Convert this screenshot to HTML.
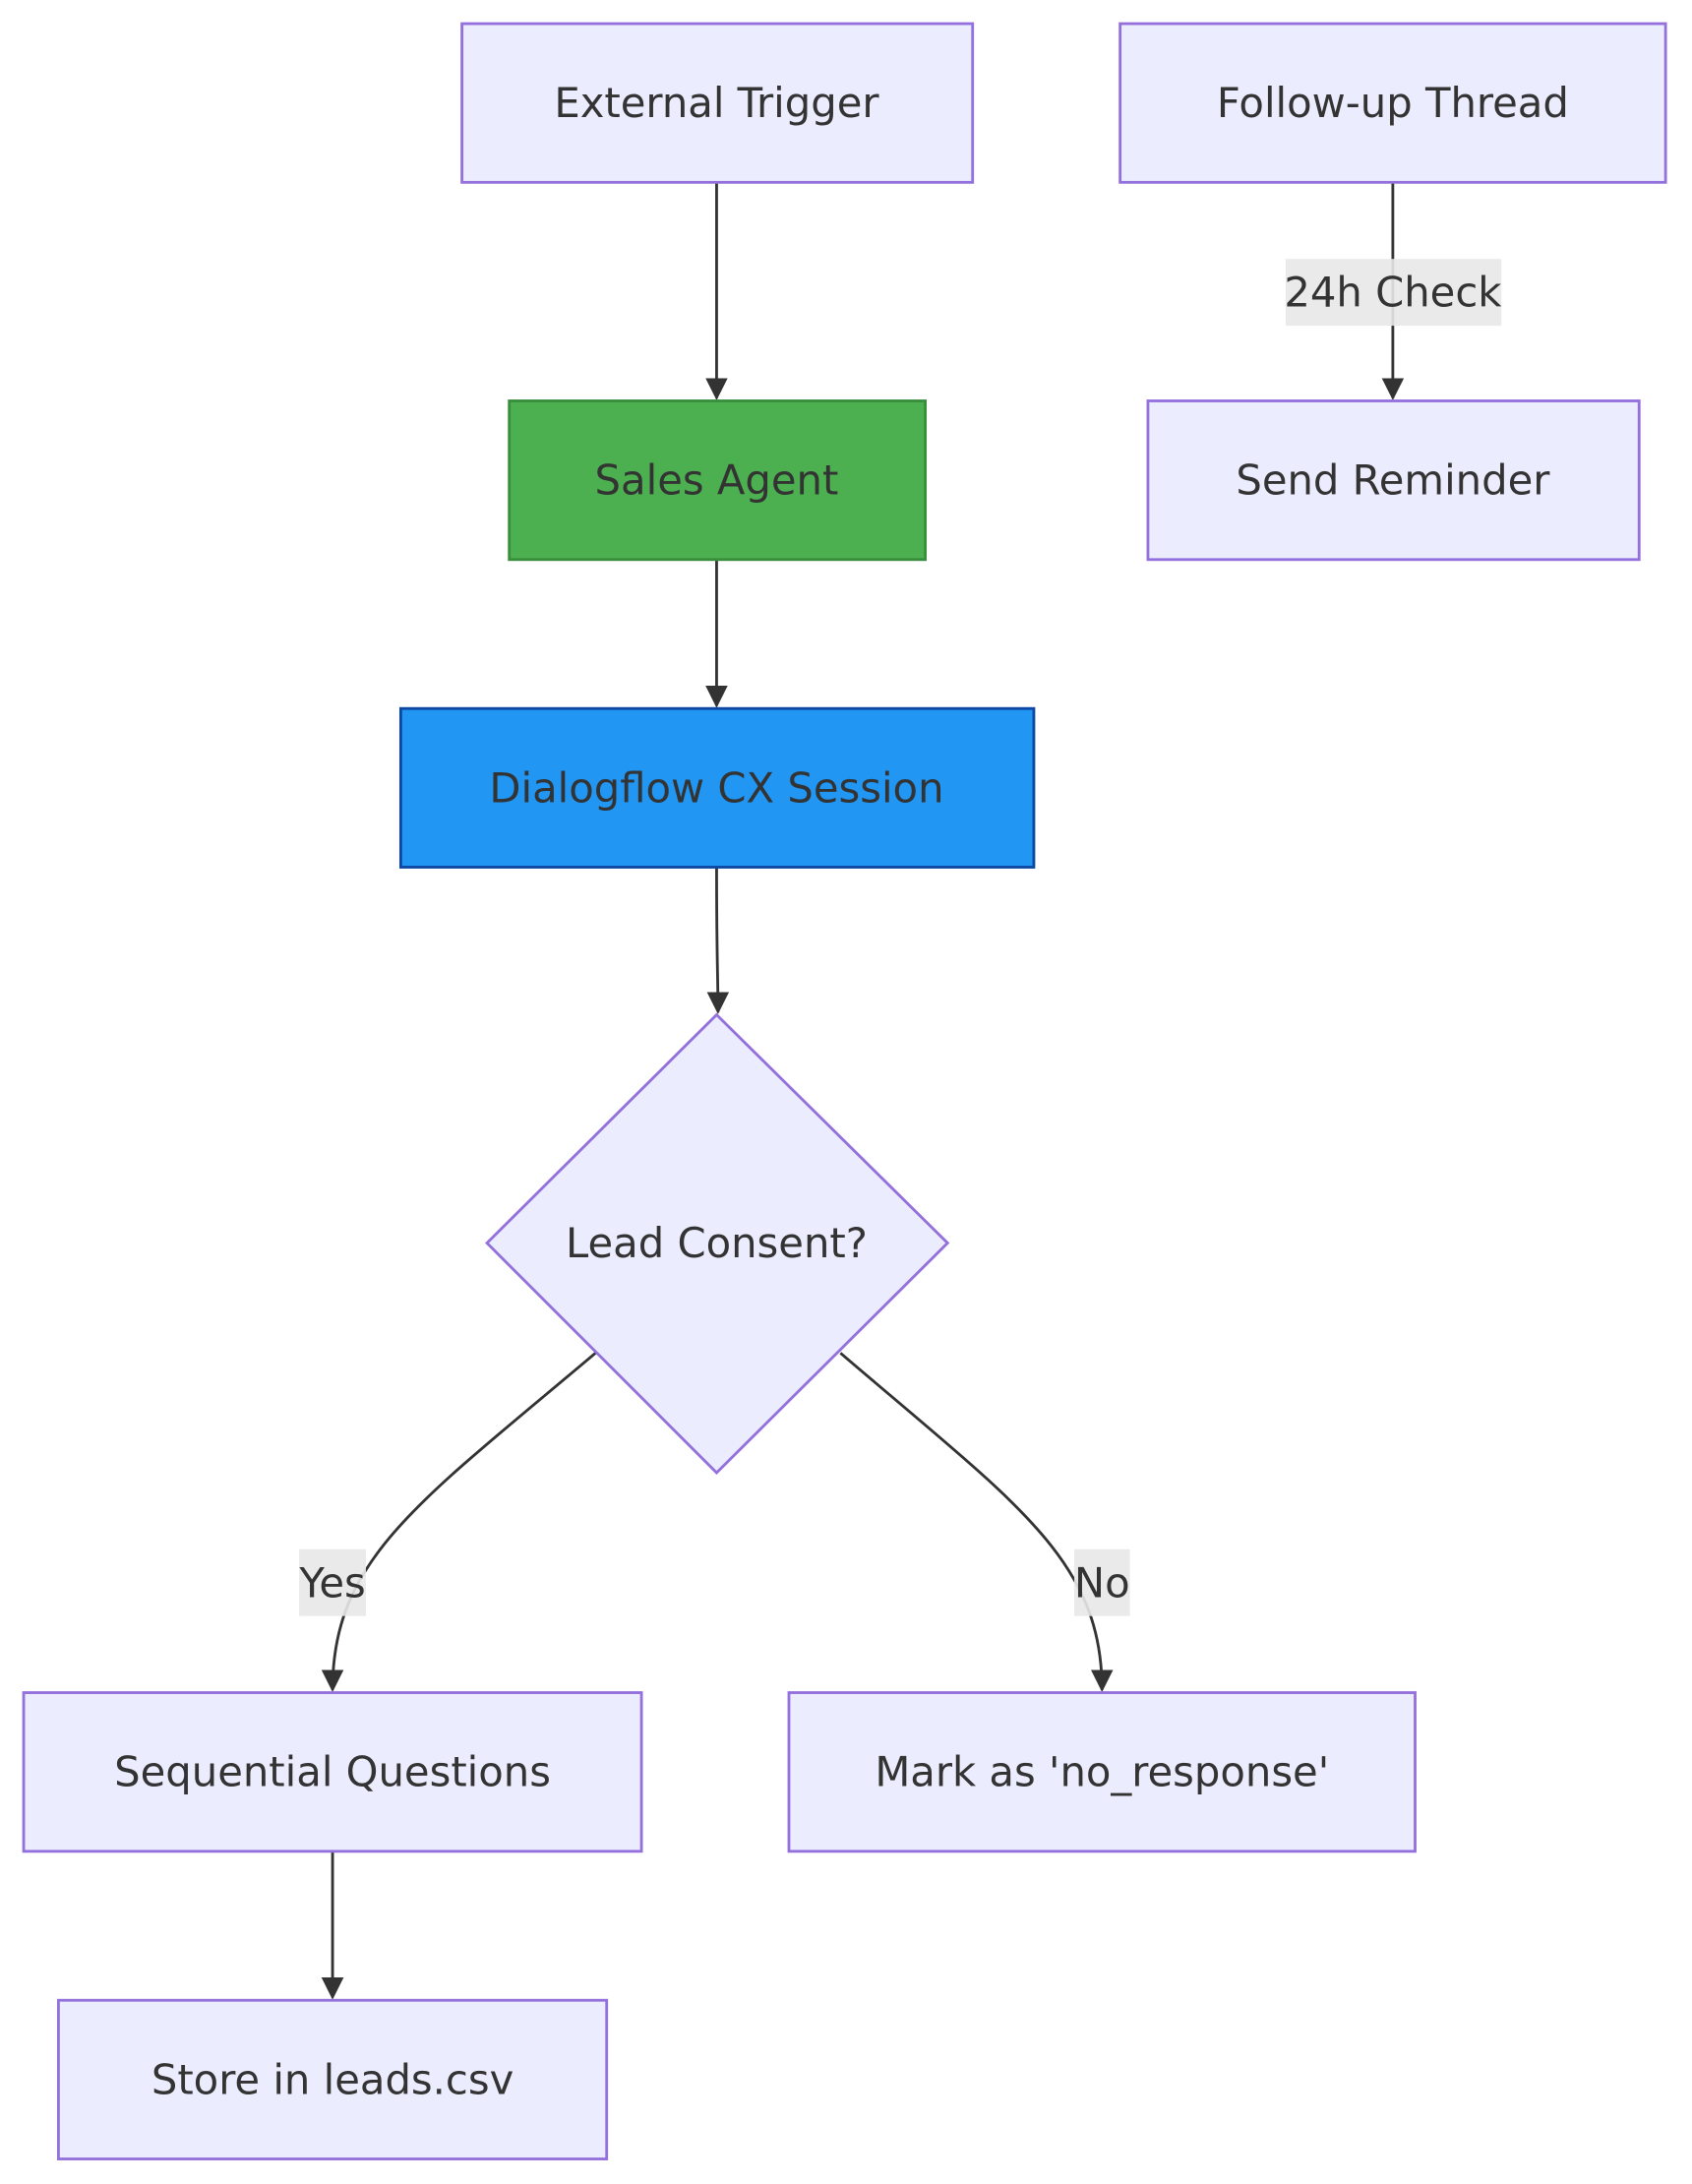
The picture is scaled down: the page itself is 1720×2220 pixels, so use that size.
<!DOCTYPE html>
<html><head><meta charset="utf-8"><style>
html,body{margin:0;padding:0;background:#fff;}
svg{display:block;}
text{font-family:"DejaVu Sans","Liberation Sans",sans-serif;font-size:29.5px;fill:#333;text-anchor:middle;dominant-baseline:central;}
</style></head><body>
<svg width="1720" height="2220" viewBox="0 0 1216 1569" preserveAspectRatio="none">
<defs>
<marker id="b" viewBox="0 0 10 10" refX="9" refY="5" markerWidth="16" markerHeight="16" orient="auto" markerUnits="userSpaceOnUse"><path d="M0,0L10,5L0,10z" fill="#333"/></marker></defs>
<g stroke="#333" stroke-width="2" fill="none">
<path d="M515,131V286" marker-end="url(#b)"/>
<path d="M515,402V507" marker-end="url(#b)"/>
<path d="M515,623C515,690 516,700 516,727" marker-end="url(#b)"/>
<path d="M1001,131V286" marker-end="url(#b)"/>
<path d="M428,972C300,1080 239,1120 239,1214" marker-end="url(#b)"/>
<path d="M604,972C730,1080 792,1120 792,1214" marker-end="url(#b)"/>
<path d="M239,1330V1435" marker-end="url(#b)"/>
</g>
<g stroke-width="2">
<rect x="332" y="17" width="367" height="114" fill="#ececff" stroke="#9370db"/>
<rect x="805" y="17" width="392" height="114" fill="#ececff" stroke="#9370db"/>
<rect x="366" y="288" width="299" height="114" fill="#4caf50" stroke="#388e3c"/>
<rect x="825" y="288" width="353" height="114" fill="#ececff" stroke="#9370db"/>
<rect x="288" y="509" width="455" height="114" fill="#2196f3" stroke="#0d47a1"/>
<polygon points="515,729 681,893 515,1058 350,893" fill="#ececff" stroke="#9370db"/>
<rect x="17" y="1216" width="444" height="114" fill="#ececff" stroke="#9370db"/>
<rect x="567" y="1216" width="450" height="114" fill="#ececff" stroke="#9370db"/>
<rect x="42" y="1437" width="394" height="114" fill="#ececff" stroke="#9370db"/>
</g>
<g fill="#e8e8e8" opacity="0.9">
<rect x="924" y="186" width="155" height="48"/>
<rect x="215" y="1113" width="48" height="48"/>
<rect x="772" y="1113" width="40" height="48"/>
</g>
<text x="515" y="74">External Trigger</text>
<text x="1001" y="74">Follow-up Thread</text>
<text x="515" y="345">Sales Agent</text>
<text x="1001" y="345">Send Reminder</text>
<text x="515" y="566">Dialogflow CX Session</text>
<text x="515" y="893">Lead Consent?</text>
<text x="239" y="1273">Sequential Questions</text>
<text x="792" y="1273">Mark as 'no_response'</text>
<text x="239" y="1494">Store in leads.csv</text>
<text x="1001" y="210">24h Check</text>
<text x="239" y="1137">Yes</text>
<text x="792" y="1137">No</text>
</svg>
</body></html>
